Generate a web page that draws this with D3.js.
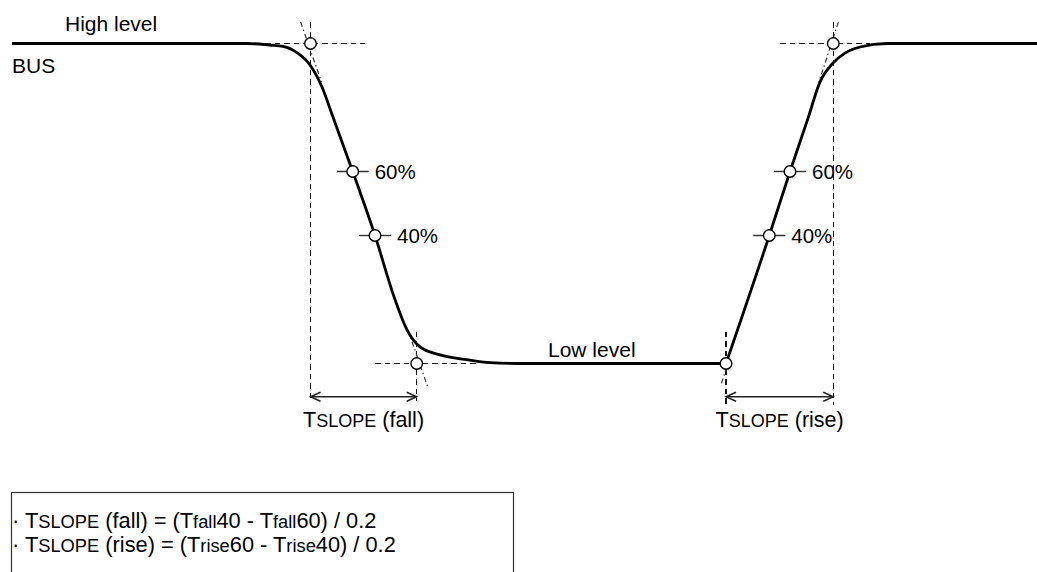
<!DOCTYPE html>
<html>
<head>
<meta charset="utf-8">
<script src="https://cdn.jsdelivr.net/npm/d3@7"></script>
<style>
  body { margin: 0; background: #fff; }
  svg { display: block; font-family: "Liberation Sans", Arial, sans-serif; }
</style>
</head>
<body>
<svg id="chart" width="1037" height="572"></svg>
<script>
// bus waveform, time in ns, level as fraction of high level
const fallT = [1.2, 24.7, 27.0, 28.3, 29.8, 31.0, 32.2, 33.3, 35.27, 37.5, 39.5, 40.7, 42.0, 44.0, 46.7, 49.0, 52.0, 72.6]
const fallLevel = [1, 1, 0.995, 0.991, 0.969, 0.933, 0.864, 0.77, 0.6, 0.4, 0.2, 0.105, 0.052, 0.027, 0.012, 0.003, 0, 0]
const riseT = [72.6, 76.93, 79.0, 80.8, 82.0, 83.3, 84.5, 86.0, 88.7, 103.7]
const riseLevel = [0, 0.4, 0.6, 0.766, 0.88, 0.939, 0.97, 0.989, 1, 1]

// measurement points: start, 60%, 40%, end of the fall; start, 40%, 60%, end of the rise
const fallMarkT = [31.05, 35.27, 37.5, 41.67]
const fallMarkLevel = [1, 0.6, 0.4, 0]
const fallPct = ['', '60%', '40%', '']
const riseMarkT = [72.6, 76.93, 79.0, 83.33]
const riseMarkLevel = [0, 0.4, 0.6, 1]
const risePct = ['', '40%', '60%', '']

const levelNames = ['High level', 'Low level']
const slopeNames = ['(fall)', '(rise)']

const svg = d3.select('#chart')
const x = d3.scaleLinear().domain([0, 103.7]).range([0, 1037])
const y = d3.scaleLinear().domain([0, 1]).range([363.5, 43.5])

const line = d3.line()
  .x(d => x(d[0]))
  .y(d => y(d[1]))
  .curve(d3.curveMonotoneX)

const dash = '5.5,4'
const guide = svg.append('g')
  .attr('fill', 'none')
  .attr('stroke-width', 1.2)

function seg(t0, l0, t1, l1, dasharray, color, crisp) {
  guide.append('line')
    .attr('x1', x(t0)).attr('y1', y(l0))
    .attr('x2', x(t1)).attr('y2', y(l1))
    .attr('stroke-dasharray', dasharray)
    .attr('stroke', color || '#111')
    .attr('shape-rendering', crisp === false ? null : 'crispEdges')
}

// horizontal dashed guides
seg(26.5, 1, 36.5, 1, dash)
seg(37.5, 0, 48, 0, dash)
seg(78.0, 1, 87.0, 1, dash)

// vertical dashed guides
seg(fallMarkT[0], 1.067, fallMarkT[0], -0.116, dash)
seg(fallMarkT[3], 0.1, fallMarkT[3], -0.116, dash)
seg(riseMarkT[0], 0.1, riseMarkT[0], -0.13, dash)
seg(riseMarkT[3], 1.067, riseMarkT[3], -0.13, dash)

// dash-dot extension of the 40%-60% slope
function extend(ts, ls, lA, lB) {
  let k = (ts[2] - ts[1]) / (ls[2] - ls[1])
  let tAt = l => ts[1] + (l - ls[1]) * k
  seg(tAt(lA), lA, tAt(lB), lB, '5,3,1.5,3', '#333', false)
}
extend(fallMarkT, fallMarkLevel, 1.067, 0.88)
extend(fallMarkT, fallMarkLevel, 0.105, -0.07)
extend(riseMarkT, riseMarkLevel, 1.067, 0.88)
extend(riseMarkT, riseMarkLevel, -0.01, -0.07)

// the waveform
;[d3.zip(fallT, fallLevel), d3.zip(riseT, riseLevel)].forEach(pts => {
  svg.append('path')
    .datum(pts)
    .attr('d', line)
    .attr('fill', 'none')
    .attr('stroke', '#000')
    .attr('stroke-width', 2.8)
})

// ticks through 60% / 40% points
const marks = [
  ...fallMarkT.map((t, i) => ({t: t, l: fallMarkLevel[i], label: fallPct[i]})),
  ...riseMarkT.map((t, i) => ({t: t, l: riseMarkLevel[i], label: risePct[i]}))
]
svg.append('g').selectAll('line')
  .data(marks.filter(d => d.label))
  .join('line')
    .attr('x1', d => x(d.t) - 16).attr('x2', d => x(d.t) + 16)
    .attr('y1', d => y(d.l)).attr('y2', d => y(d.l))
    .attr('stroke', '#333')
    .attr('stroke-width', 1.4)

svg.append('g').selectAll('circle')
  .data(marks)
  .join('circle')
    .attr('cx', d => x(d.t))
    .attr('cy', d => y(d.l))
    .attr('r', 5.8)
    .attr('fill', '#fff')
    .attr('stroke', '#000')
    .attr('stroke-width', 1.4)

svg.append('g').selectAll('text')
  .data(marks.filter(d => d.label))
  .join('text')
    .attr('x', d => x(d.t) + 22)
    .attr('y', d => y(d.l))
    .attr('dy', '0.36em')
    .attr('font-size', 20.5)
    .text(d => d.label)

// double arrows for TSLOPE
const arrowLevel = -0.104
function arrow(t0, t1) {
  let ay = y(arrowLevel), xa = x(t0), xb = x(t1)
  let g = svg.append('g').attr('fill', 'none').attr('stroke', '#222').attr('stroke-width', 1.5)
  g.append('line').attr('x1', xa).attr('x2', xb).attr('y1', ay).attr('y2', ay)
  g.append('path').attr('d', `M${xa + 10},${ay - 4.5}L${xa},${ay}L${xa + 10},${ay + 4.5}`)
  g.append('path').attr('d', `M${xb - 10},${ay - 4.5}L${xb},${ay}L${xb - 10},${ay + 4.5}`)
}
arrow(fallMarkT[0], fallMarkT[3])
arrow(riseMarkT[0], riseMarkT[3])

function slopeLabel(cx, name) {
  let t = svg.append('text')
    .attr('x', cx).attr('y', 427)
    .attr('text-anchor', 'middle')
    .attr('font-size', 21.5)
  t.append('tspan').text('T')
  t.append('tspan').attr('font-size', 18).text('SLOPE')
  t.append('tspan').text(' ' + name)
}
slopeLabel((x(fallMarkT[0]) + x(fallMarkT[3])) / 2, slopeNames[0])
slopeLabel((x(riseMarkT[0]) + x(riseMarkT[3])) / 2, slopeNames[1])

// level names
svg.append('text').attr('x', 65).attr('y', 31).attr('font-size', 21).text(levelNames[0])
svg.append('text').attr('x', 12).attr('y', 73).attr('font-size', 21).text('BUS')
svg.append('text').attr('x', 548).attr('y', 357).attr('font-size', 21).text(levelNames[1])

// formula box
svg.append('rect')
  .attr('x', 11.5).attr('y', 492.5)
  .attr('width', 502).attr('height', 100)
  .attr('fill', 'none')
  .attr('stroke', '#333')
  .attr('stroke-width', 1.2)

const formulas = [
  [['· T', 0], ['SLOPE', 1], [' (fall) = (T', 0], ['fall', 1], ['40 - T', 0], ['fall', 1], ['60) / 0.2', 0]],
  [['· T', 0], ['SLOPE', 1], [' (rise) = (T', 0], ['rise', 1], ['60 - T', 0], ['rise', 1], ['40) / 0.2', 0]]
]
formulas.forEach((parts, i) => {
  let t = svg.append('text')
    .attr('x', 12).attr('y', 528 + i * 24)
    .attr('font-size', 21.8)
  parts.forEach(p => {
    let s = t.append('tspan').text(p[0])
    if (p[1]) s.attr('font-size', 18.3)
  })
})
</script>
</body>
</html>
